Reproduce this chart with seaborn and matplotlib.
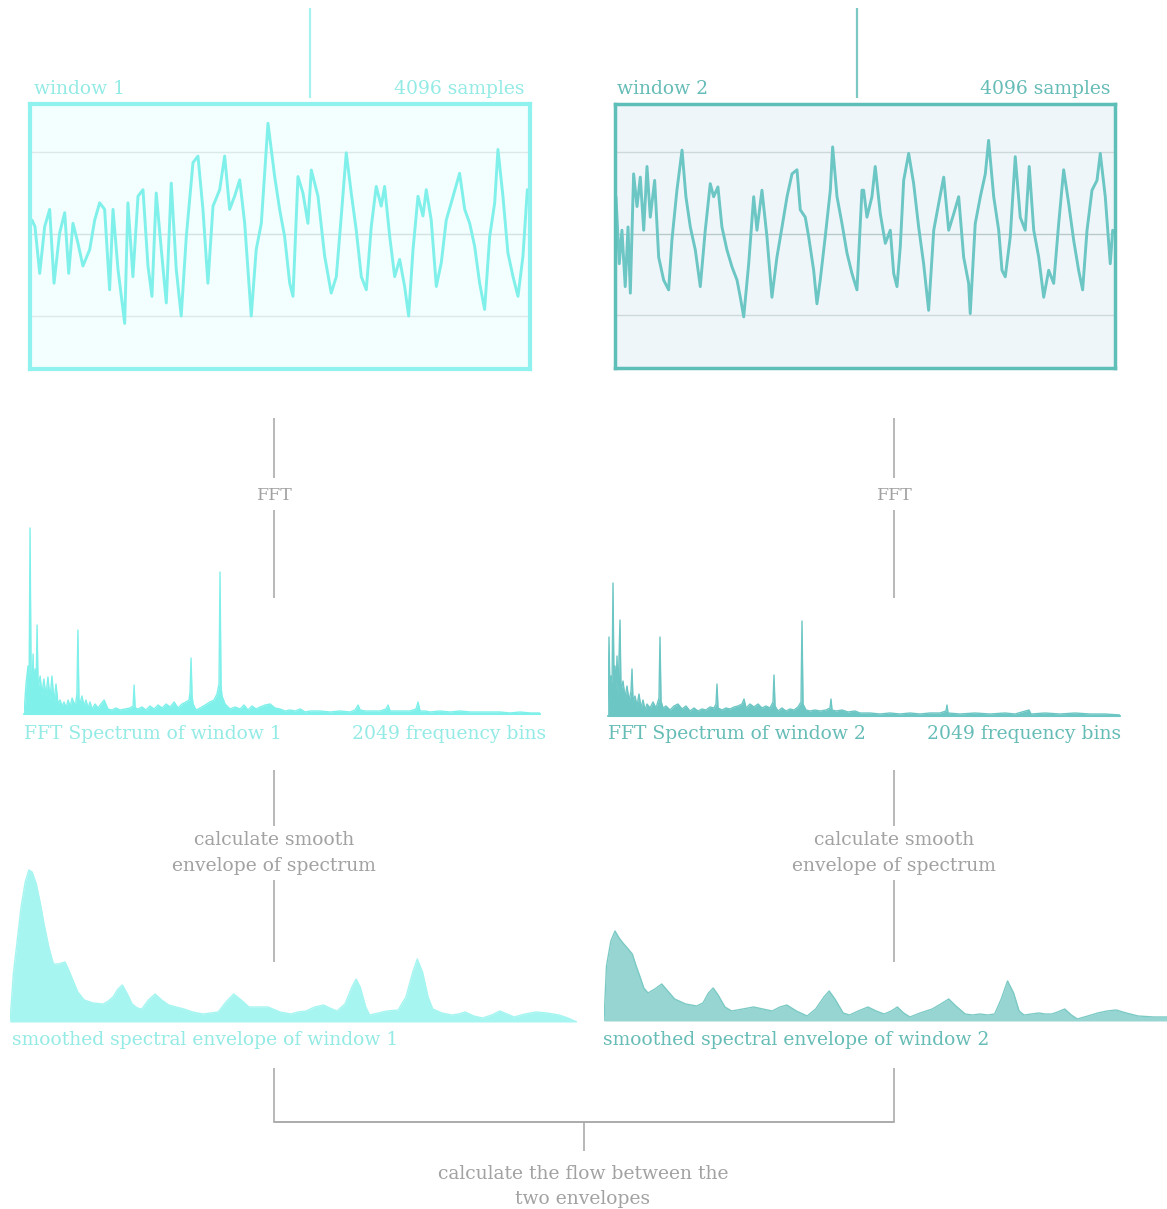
import matplotlib
matplotlib.use("Agg")
import matplotlib.pyplot as plt
import seaborn as sns

W, H = 1167, 1209

# ---- time-domain windows (sample index, amplitude) ----
win1_sample = [8, 33, 72, 113, 154, 190, 236, 278, 311, 346, 387, 428, 484, 525, 566, 607, 648, 676, 717, 772,
               799, 840, 882, 923, 964, 997, 1032, 1074, 1115, 1156, 1197, 1238, 1280, 1335, 1376, 1417, 1458, 1500, 1555, 1596,
               1637, 1678, 1720, 1761, 1815, 1856, 1898, 1953, 2008, 2049, 2090, 2132, 2159, 2200, 2241, 2282, 2310, 2365, 2420, 2474,
               2516, 2557, 2598, 2639, 2680, 2722, 2763, 2804, 2845, 2886, 2914, 2956, 2997, 3038, 3079, 3112, 3148, 3189, 3230, 3257,
               3298, 3340, 3381, 3422, 3463, 3532, 3574, 3615, 3656, 3697, 3738, 3780, 3821, 3848, 3889, 3930, 3972, 4013, 4054, 4090]
win1_amp = [0.17, 0.09, -0.48, 0.09, 0.30, -0.60, 0.01, 0.26, -0.48, 0.13,
            -0.11, -0.39, -0.19, 0.17, 0.38, 0.30, -0.68, 0.30, -0.43, -1.09,
            0.38, -0.52, 0.46, 0.54, -0.39, -0.76, 0.50, -0.19, -0.84, 0.62,
            -0.43, -1.00, -0.03, 0.87, 0.95, 0.30, -0.60, 0.34, 0.54, 0.95,
            0.30, 0.46, 0.66, 0.13, -1.00, -0.19, 0.13, 1.35, 0.70, 0.30,
            -0.03, -0.60, -0.76, 0.70, 0.50, 0.13, 0.78, 0.46, -0.27, -0.72,
            -0.52, 0.22, 0.99, 0.50, 0.05, -0.52, -0.68, 0.09, 0.58, 0.34,
            0.58, -0.03, -0.52, -0.31, -0.64, -1.00, -0.19, 0.46, 0.22, 0.54,
            0.17, -0.64, -0.35, 0.17, 0.38, 0.74, 0.30, 0.13, -0.15, -0.60,
            -0.92, -0.03, 0.38, 1.03, 0.46, -0.23, -0.52, -0.76, -0.27, 0.54]

win2_sample = [0, 27, 49, 76, 99, 118, 145, 173, 200, 228, 255, 282, 318, 351, 392, 433, 460, 501, 543, 575,
               611, 652, 693, 734, 775, 803, 838, 871, 912, 954, 995, 1022, 1050, 1091, 1132, 1159, 1200, 1241, 1282, 1323,
               1365, 1406, 1447, 1488, 1515, 1556, 1584, 1625, 1652, 1679, 1720, 1762, 1781, 1817, 1858, 1899, 1940, 1981, 2022,
               2036, 2063, 2104, 2131, 2173, 2214, 2255, 2283, 2310, 2337, 2365, 2406, 2447, 2488, 2529, 2570, 2612, 2653, 2694, 2735,
               2776, 2817, 2858, 2899, 2912, 2953, 2995, 3036, 3063, 3105, 3146, 3173, 3200, 3241, 3282, 3323, 3364, 3397, 3434, 3475,
               3516, 3557, 3598, 3639, 3680, 3721, 3762, 3803, 3836, 3872, 3913, 3954, 3981, 4022, 4063, 4083]
win2_amp = [0.45, -0.37, 0.04, -0.65, 0.08, -0.73, 0.73, 0.33, 0.69, 0.04,
            0.82, 0.20, 0.65, -0.29, -0.57, -0.69, -0.08, 0.53, 1.02, 0.45,
            0.08, -0.20, -0.65, 0.04, 0.61, 0.45, 0.57, 0.08, -0.20, -0.41,
            -0.57, -0.78, -1.02, -0.37, 0.45, 0.04, 0.53, -0.04, -0.78, -0.29,
            0.08, 0.45, 0.73, 0.78, 0.29, 0.20, -0.04, -0.45, -0.86, -0.57,
            -0.04, 0.53, 1.06, 0.45, 0.12, -0.24, -0.49, -0.69, 0.53,
            0.53, 0.20, 0.45, 0.82, 0.24, -0.12, 0.04, -0.49, -0.65, -0.16,
            0.65, 0.98, 0.61, 0.08, -0.37, -0.94, 0.04, 0.37, 0.69, 0.04,
            0.24, 0.45, -0.29, -0.61, -0.98, 0.12, 0.45, 0.73, 1.14, 0.45,
            0.04, -0.45, -0.53, -0.04, 0.94, 0.20, 0.04, 0.82, 0.04, -0.29,
            -0.78, -0.45, -0.61, 0.12, 0.78, 0.37, -0.08, -0.45, -0.69, 0.04,
            0.53, 0.65, 0.98, 0.45, -0.37, 0.04]

# ---- magnitude spectra (frequency bin, magnitude) ----
spec1_bin = [0, 8, 16, 20, 24, 28, 32, 36, 40, 44, 48, 52, 56, 64, 71, 79, 87, 95, 103, 111,
             119, 127, 135, 143, 151, 159, 167, 175, 183, 191, 199, 206, 210, 214, 218, 222, 230, 238, 246, 254,
             262, 270, 282, 294, 302, 318, 333, 349, 365, 381, 401, 421, 433, 437, 441, 453, 468, 484, 500, 516,
             532, 548, 564, 580, 596, 611, 627, 643, 655, 659, 663, 667, 671, 683, 699, 719, 738, 754, 766, 774,
             778, 782, 786, 798, 818, 838, 858, 873, 889, 905, 921, 937, 957, 977, 996, 1016, 1036, 1056, 1076, 1096,
             1116, 1135, 1175, 1215, 1255, 1294, 1314, 1326, 1334, 1354, 1374, 1413, 1437, 1445, 1453, 1473, 1493, 1532, 1556, 1564,
             1572, 1592, 1612, 1651, 1691, 1731, 1771, 1810, 1850, 1890, 1929, 1969, 2009, 2048]
spec1_mag = [0, 30, 48, 20, 186, 40, 25, 60, 20, 45, 30, 89, 25, 38, 20, 35, 18, 37, 15, 38,
             12, 30, 10, 14, 8, 12, 6, 14, 7, 16, 10, 12, 20, 84, 15, 10, 18, 8, 14, 6,
             12, 5, 10, 6, 9, 14, 5, 4, 6, 4, 5, 6, 8, 29, 6, 5, 7, 4, 8, 5,
             9, 6, 10, 7, 12, 6, 10, 12, 14, 22, 56, 18, 10, 4, 6, 9, 12, 14, 20, 30,
             142, 28, 18, 10, 5, 7, 5, 9, 4, 8, 5, 7, 9, 10, 6, 5, 3, 4, 3, 5,
             2, 3, 3, 2, 3, 2, 4, 9, 4, 3, 3, 3, 5, 9, 3, 3, 3, 3, 5, 12,
             3, 3, 2, 3, 2, 3, 2, 2, 2, 2, 1, 2, 1, 1]

spec2_bin = [0, 4, 8, 12, 16, 20, 24, 28, 32, 36, 40, 48, 52, 60, 68, 76, 84, 92, 96, 100,
             108, 116, 124, 132, 140, 148, 156, 168, 180, 192, 204, 208, 212, 220, 232, 248, 264, 280, 296, 312,
             328, 344, 360, 376, 392, 408, 424, 432, 436, 440, 456, 472, 488, 504, 520, 536, 544, 552, 568, 584,
             600, 616, 632, 648, 660, 664, 668, 680, 696, 712, 728, 744, 760, 772, 776, 780, 792, 808, 828, 848,
             872, 888, 892, 896, 912, 936, 960, 988, 1008, 1048, 1088, 1128, 1168, 1208, 1248, 1288, 1328, 1352, 1356, 1360,
             1408, 1468, 1528, 1588, 1628, 1684, 1692, 1748, 1808, 1868, 1928, 1988, 2048]
spec2_mag = [0, 79, 20, 40, 25, 133, 30, 50, 25, 60, 20, 96, 25, 35, 18, 30, 15, 25, 47, 15,
             20, 10, 22, 8, 16, 6, 12, 8, 14, 8, 18, 79, 15, 8, 10, 6, 10, 12, 7, 10,
             5, 8, 5, 7, 6, 9, 8, 12, 32, 8, 6, 8, 7, 9, 10, 12, 17, 8, 12, 9,
             12, 8, 10, 8, 14, 41, 10, 5, 8, 5, 7, 6, 9, 14, 95, 12, 6, 5, 6, 5,
             6, 8, 17, 6, 5, 6, 4, 5, 3, 3, 2, 3, 2, 3, 2, 3, 3, 5, 11, 3,
             2, 3, 2, 3, 2, 6, 2, 3, 2, 3, 2, 2, 1]

# ---- smoothed spectral envelopes (frequency bin, magnitude) ----
env1_bin = [0, 12, 40, 55, 68, 80, 95, 110, 123, 140, 157, 175, 199, 212, 227, 245, 268, 300, 337, 355,
            372, 390, 406, 424, 441, 460, 476, 500, 524, 548, 573, 600, 628, 660, 697, 725, 752, 780, 808, 835,
            863, 900, 932, 975, 1015, 1040, 1070, 1100, 1133, 1155, 1181, 1210, 1235, 1250, 1265, 1285, 1299, 1330, 1361, 1402,
            1430, 1455, 1471, 1490, 1510, 1527, 1560, 1596, 1620, 1644, 1675, 1707, 1740, 1769, 1795, 1821, 1860, 1900, 1940, 1983,
            2015, 2048]
env1_mag = [0, 48, 115, 140, 152, 150, 138, 118, 98, 75, 58, 58, 60, 52, 42, 30, 22, 19, 18, 21,
            25, 33, 37, 28, 18, 14, 13, 22, 28, 22, 17, 15, 13, 10, 8, 9, 10, 20, 28, 22,
            15, 15, 15, 10, 8, 10, 11, 15, 17, 14, 11, 18, 35, 43, 35, 15, 7, 9, 11, 12,
            25, 50, 63, 50, 25, 13, 9, 7, 8, 10, 6, 4, 7, 11, 8, 5, 8, 10, 9, 7,
            4, 0]

env2_bin = [0, 9, 25, 40, 55, 69, 85, 103, 117, 130, 145, 160, 185, 210, 232, 257, 297, 337, 360, 380,
            397, 415, 440, 464, 505, 544, 578, 612, 640, 665, 700, 739, 770, 800, 819, 840, 870, 893, 925, 960,
            990, 1019, 1045, 1067, 1090, 1113, 1150, 1194, 1225, 1254, 1280, 1314, 1340, 1368, 1395, 1421, 1445, 1468, 1490, 1510,
            1528, 1555, 1582, 1605, 1629, 1650, 1676, 1700, 1722, 1760, 1796, 1830, 1863, 1900, 1943, 2000, 2048]
env2_mag = [0, 55, 80, 90, 83, 78, 73, 67, 55, 45, 33, 28, 32, 37, 30, 22, 17, 15, 18, 28,
            33, 26, 14, 10, 12, 14, 12, 10, 14, 16, 10, 5, 12, 24, 30, 22, 8, 6, 10, 14,
            10, 7, 10, 14, 8, 4, 8, 12, 17, 22, 15, 7, 6, 7, 6, 7, 22, 40, 28, 10,
            6, 7, 8, 7, 7, 9, 12, 6, 2, 5, 8, 10, 11, 8, 5, 4, 4]

# ---- labels ----
window_titles = ["window 1", "window 2"]
sample_label = "4096 samples"
fft_label = "FFT"
spectrum_titles = ["FFT Spectrum of window 1", "FFT Spectrum of window 2"]
bins_label = "2049 frequency bins"
smooth_label = ["calculate smooth", "envelope of spectrum"]
envelope_titles = ["smoothed spectral envelope of window 1", "smoothed spectral envelope of window 2"]
flow_label = ["calculate the flow between the", "two envelopes"]

# ---- styling ----
sns.set_theme(style="white")
plt.rcParams["font.family"] = ["DejaVu Serif"]

CYAN_LINE = "#80F0EA"
CYAN_EDGE = "#90F2EE"
CYAN_FACE = "#F3FEFE"
CYAN_TEXT = "#94EBE5"
CYAN_FILL = "#A6F5F1"
TEAL_LINE = "#6CC6C4"
TEAL_EDGE = "#5EBEB8"
TEAL_FACE = "#EFF6FA"
TEAL_TEXT = "#66BCB6"
TEAL_FILL = "#96D5D1"
TEAL_FILL_EDGE = "#7CCAC5"
GRAY_LINE = "#ABABAB"
GRAY_TEXT = "#A2A2A2"
FS = 13.5

fig = plt.figure(figsize=(W / 100, H / 100), dpi=100)
fig.patch.set_facecolor("white")


def px_axes(x0, y0, x1, y1):
    return fig.add_axes([x0 / W, 1 - y1 / H, (x1 - x0) / W, (y1 - y0) / H])


# overlay in pixel units for connectors and labels
ov = fig.add_axes([0, 0, 1, 1])
ov.set_xlim(0, W)
ov.set_ylim(H, 0)
ov.axis("off")
ov.set_zorder(5)
ov.patch.set_alpha(0)


def vline(x, y0, y1, color=GRAY_LINE, lw=1.2):
    ov.plot([x, x], [y0, y1], color=color, lw=lw, solid_capstyle="butt")


def draw_window(rect, samples, amps, line_c, edge_c, face_c, edge_w, grid_c, mid_c, xlim):
    ax = px_axes(*rect)
    ax.set_facecolor(face_c)
    for v in (-1, 1):
        ax.axhline(v, color=grid_c, lw=1.0, zorder=1)
    ax.axhline(0, color=mid_c, lw=1.0, zorder=1)
    sns.lineplot(x=samples, y=amps, ax=ax, color=line_c, lw=2.1,
                 estimator=None, sort=False, zorder=2)
    ax.set_xlim(*xlim)
    ax.set_ylim(-1.646, 1.585)
    ax.set_xticks([])
    ax.set_yticks([])
    ax.set_xlabel("")
    ax.set_ylabel("")
    for s in ax.spines.values():
        s.set_visible(True)
        s.set_color(edge_c)
        s.set_linewidth(edge_w)
    return ax


draw_window((30, 104, 530, 369), win1_sample, win1_amp, CYAN_LINE, CYAN_EDGE, CYAN_FACE, 3.0,
            "#DCE9E9", "#D3E2E2", (-8, 4112))
draw_window((615, 104, 1115, 368), win2_sample, win2_amp, TEAL_LINE, TEAL_EDGE, TEAL_FACE, 2.5,
            "#CCD8DA", "#B9C9CA", (-8, 4102))


def draw_spectrum(rect, bins, mags, color):
    ax = px_axes(*rect)
    ax.patch.set_alpha(0)
    ax.fill_between(bins, mags, color=color, lw=0)
    sns.lineplot(x=bins, y=mags, ax=ax, color=color, lw=1.0, estimator=None, sort=False)
    ax.axhline(0, color=color, lw=1.5, clip_on=False)
    ax.set_xlim(0, 2048)
    ax.set_ylim(0, 190)
    ax.axis("off")


draw_spectrum((24, 524, 540, 714), spec1_bin, spec1_mag, CYAN_LINE)
draw_spectrum((608, 526, 1120, 716), spec2_bin, spec2_mag, TEAL_LINE)


def draw_envelope(rect, bins, mags, fill_c, edge_c):
    ax = px_axes(*rect)
    ax.patch.set_alpha(0)
    ax.fill_between(bins, mags, color=fill_c, lw=0)
    sns.lineplot(x=bins, y=mags, ax=ax, color=edge_c, lw=1.0, estimator=None, sort=False)
    ax.set_xlim(0, 2048)
    ax.set_ylim(0, 160)
    ax.axis("off")


draw_envelope((10, 862, 577, 1022), env1_bin, env1_mag, CYAN_FILL, CYAN_FILL)
draw_envelope((604, 861, 1167, 1021), env2_bin, env2_mag, TEAL_FILL, TEAL_FILL_EDGE)

# ---- connectors ----
vline(310, 8, 98, color="#A6F2EE", lw=1.6)
vline(857, 8, 98, color="#7CC8C3", lw=1.6)
for cx in (274, 894):
    vline(cx, 418, 478)
    vline(cx, 510, 598)
    vline(cx, 770, 826)
    vline(cx, 880, 962)
    vline(cx, 1068, 1122)
ov.plot([274, 894], [1122, 1122], color=GRAY_LINE, lw=1.4)
vline(584, 1122, 1151)

# ---- labels ----
ov.text(34, 94, window_titles[0], color=CYAN_TEXT, fontsize=FS, va="baseline", ha="left")
ov.text(524, 94, sample_label, color=CYAN_TEXT, fontsize=FS, va="baseline", ha="right")
ov.text(617, 94, window_titles[1], color=TEAL_TEXT, fontsize=FS, va="baseline", ha="left")
ov.text(1110, 94, sample_label, color=TEAL_TEXT, fontsize=FS, va="baseline", ha="right")

for cx in (275, 895):
    ov.text(cx, 500, fft_label, color=GRAY_TEXT, fontsize=FS - 1, va="baseline", ha="center")
    ov.text(cx - 1, 845, smooth_label[0], color=GRAY_TEXT, fontsize=FS, va="baseline", ha="center")
    ov.text(cx - 1, 871, smooth_label[1], color=GRAY_TEXT, fontsize=FS, va="baseline", ha="center")

ov.text(24, 739, spectrum_titles[0], color=CYAN_TEXT, fontsize=FS, va="baseline", ha="left")
ov.text(546, 739, bins_label, color=CYAN_TEXT, fontsize=FS, va="baseline", ha="right")
ov.text(608, 739, spectrum_titles[1], color=TEAL_TEXT, fontsize=FS, va="baseline", ha="left")
ov.text(1121, 739, bins_label, color=TEAL_TEXT, fontsize=FS, va="baseline", ha="right")

ov.text(12, 1045, envelope_titles[0], color=CYAN_TEXT, fontsize=FS, va="baseline", ha="left")
ov.text(603, 1045, envelope_titles[1], color=TEAL_TEXT, fontsize=FS, va="baseline", ha="left")

ov.text(583, 1179, flow_label[0], color=GRAY_TEXT, fontsize=FS, va="baseline", ha="center")
ov.text(583, 1204, flow_label[1], color=GRAY_TEXT, fontsize=FS, va="baseline", ha="center")

fig.savefig("out.png", dpi=100, facecolor="white")
